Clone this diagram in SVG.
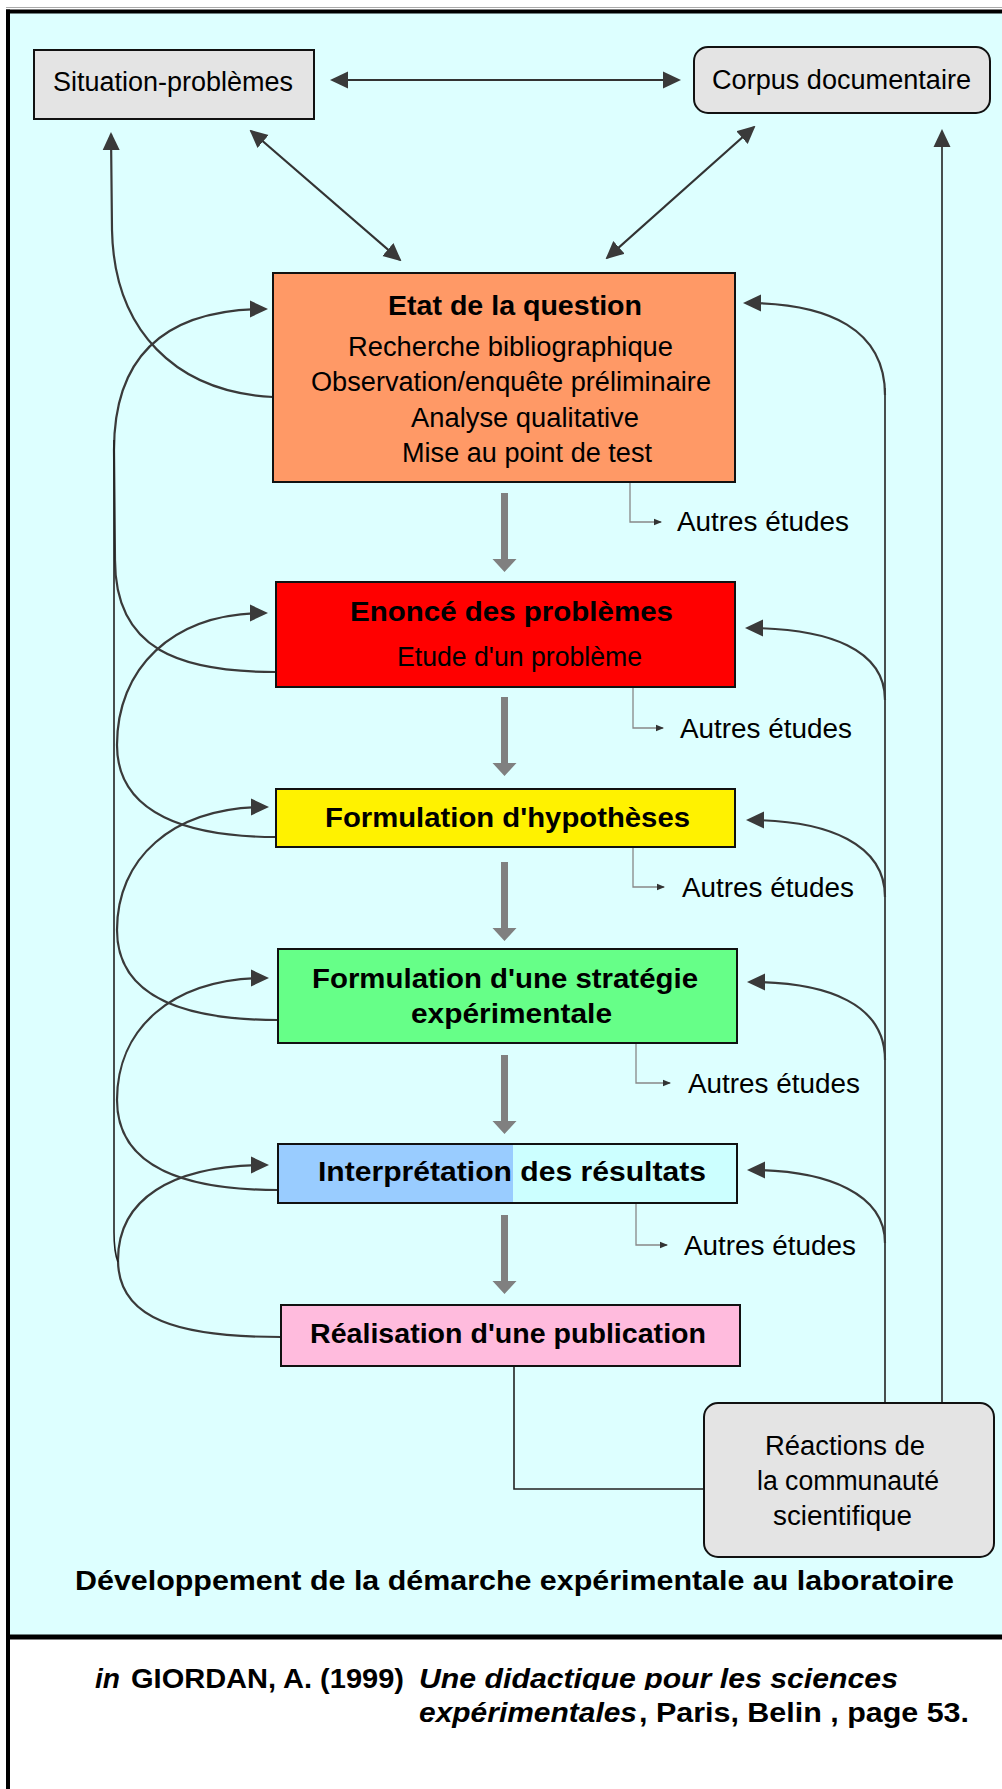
<svg xmlns="http://www.w3.org/2000/svg" width="1002" height="1789" viewBox="0 0 1002 1789">
<style>
text{font-family:"Liberation Sans",Arial,sans-serif;font-size:27px;fill:#000}
.b{font-weight:bold}
.bi{font-weight:bold;font-style:italic}
.box{stroke:#111;stroke-width:2}
.gray{fill:#e4e4e4}
.cv{fill:none;stroke:#3a3a3a;stroke-width:2.2}
.ln{fill:none;stroke:#222;stroke-width:1.6}
.da{fill:none;stroke:#333;stroke-width:2.2}
.au{fill:none;stroke:#888;stroke-width:1.3}
</style>
<defs>
<marker id="ah" viewBox="0 0 18 18" refX="16" refY="9" markerWidth="18" markerHeight="18" markerUnits="userSpaceOnUse" orient="auto-start-reverse">
<path d="M0,0.5 L18,9 L0,17.5 z" fill="#3a3a3a"/>
</marker>
<marker id="sm" viewBox="0 0 8 8" refX="7" refY="4" markerWidth="8" markerHeight="8" markerUnits="userSpaceOnUse" orient="auto">
<path d="M0,0.8 L8,4 L0,7.2 z" fill="#333"/>
</marker>
<path id="garrow" d="M-3.5,0 H3.5 V66 H12 L0,79 L-12,66 H-3.5 z" fill="#808080"/>
<clipPath id="clipdesc"><rect x="400" y="1650" width="520" height="40"/></clipPath>
</defs>

<rect x="0" y="0" width="1002" height="1789" fill="#fff"/>
<rect x="10" y="13" width="992" height="1622" fill="#ddffff"/>
<line x1="6" y1="7.5" x2="1002" y2="7.5" stroke="#aaa" stroke-width="1"/>
<line x1="6" y1="11.5" x2="1002" y2="11.5" stroke="#000" stroke-width="4"/>
<line x1="8" y1="9.5" x2="8" y2="1789" stroke="#000" stroke-width="4"/>
<line x1="6" y1="1637" x2="1002" y2="1637" stroke="#000" stroke-width="5"/>

<g id="connectors">
<!-- top double arrows -->
<path class="da" d="M332,80 L679,80" marker-start="url(#ah)" marker-end="url(#ah)"/>
<path class="da" d="M251,131 L400,260" marker-start="url(#ah)" marker-end="url(#ah)"/>
<path class="da" d="M754,127 L607,258" marker-start="url(#ah)" marker-end="url(#ah)"/>
<!-- Etat to Situation-problemes -->
<path class="cv" d="M273,397 C175,392 114,330 112,230 L111,134" marker-end="url(#ah)"/>
<!-- left feedback loops -->
<path class="cv" d="M276,672 C180,672 115,650 115,560 L114,450 C114,360 160,309 266,309" marker-end="url(#ah)"/>
<path class="cv" d="M276,837 C190,837 117,815 117,745 C117,670 170,613 266,613" marker-end="url(#ah)"/>
<path class="cv" d="M278,1020 C190,1020 117,1000 117,930 C117,860 170,807 267,807" marker-end="url(#ah)"/>
<path class="cv" d="M278,1190 C190,1190 117,1170 117,1100 C117,1030 170,978 267,978" marker-end="url(#ah)"/>
<path class="cv" d="M281,1337 C180,1337 118,1320 118,1260 C118,1200 170,1165 267,1165" marker-end="url(#ah)"/>
<path class="ln" d="M114,440 L114,1232 Q114,1252 118,1262"/>
<!-- right feedback -->
<path class="ln" d="M885,388 L885,1403"/>
<path class="cv" d="M885,395 C885,330 830,303 745,303" marker-end="url(#ah)"/>
<path class="cv" d="M885,700 C885,650 830,628 747,628" marker-end="url(#ah)"/>
<path class="cv" d="M885,897 C885,845 830,820 748,820" marker-end="url(#ah)"/>
<path class="cv" d="M885,1060 C885,1005 830,982 749,982" marker-end="url(#ah)"/>
<path class="cv" d="M885,1243 C885,1195 830,1170 749,1170" marker-end="url(#ah)"/>
<path class="ln" d="M942,1403 L942,131" marker-end="url(#ah)"/>
<!-- publication to reactions -->
<path class="ln" d="M514,1366 L514,1489 L704,1489"/>
<!-- main gray arrows -->
<use href="#garrow" x="504.5" y="493"/>
<use href="#garrow" x="504.5" y="697"/>
<use href="#garrow" x="504.5" y="862"/>
<use href="#garrow" x="504.5" y="1055"/>
<use href="#garrow" x="504.5" y="1215"/>
<!-- autres etudes connectors -->
<path class="au" d="M630,482 V522 H661" marker-end="url(#sm)"/>
<path class="au" d="M633,687 V728 H663" marker-end="url(#sm)"/>
<path class="au" d="M633,847 V887 H664" marker-end="url(#sm)"/>
<path class="au" d="M636,1043 V1083 H670" marker-end="url(#sm)"/>
<path class="au" d="M636,1203 V1245 H667" marker-end="url(#sm)"/>
</g>

<g id="situation">
<rect class="box gray" x="34" y="50" width="280" height="69"/>
<text x="53" y="91" textLength="240" lengthAdjust="spacingAndGlyphs">Situation-problèmes</text>
</g>
<g id="corpus">
<rect class="box gray" x="694" y="47" width="296" height="66" rx="14"/>
<text x="712" y="89" textLength="259" lengthAdjust="spacingAndGlyphs">Corpus documentaire</text>
</g>
<g id="etat">
<rect class="box" x="273" y="273" width="462" height="209" fill="#ff9966"/>
<text class="b" x="388" y="315" textLength="254" lengthAdjust="spacingAndGlyphs">Etat de la question</text>
<text x="348" y="356" textLength="325" lengthAdjust="spacingAndGlyphs">Recherche bibliographique</text>
<text x="311" y="391" textLength="400" lengthAdjust="spacingAndGlyphs">Observation/enquête préliminaire</text>
<text x="411" y="427" textLength="228" lengthAdjust="spacingAndGlyphs">Analyse qualitative</text>
<text x="402" y="462" textLength="250" lengthAdjust="spacingAndGlyphs">Mise au point de test</text>
</g>
<g id="enonce">
<rect class="box" x="276" y="582" width="459" height="105" fill="#ff0000"/>
<text class="b" x="350" y="621" textLength="323" lengthAdjust="spacingAndGlyphs">Enoncé des problèmes</text>
<text x="397" y="666" textLength="245" lengthAdjust="spacingAndGlyphs">Etude d'un problème</text>
</g>
<g id="hypotheses">
<rect class="box" x="276" y="789" width="459" height="58" fill="#fff200"/>
<text class="b" x="325" y="827" textLength="365" lengthAdjust="spacingAndGlyphs">Formulation d'hypothèses</text>
</g>
<g id="strategie">
<rect class="box" x="278" y="949" width="459" height="94" fill="#66ff88"/>
<text class="b" x="312" y="988" textLength="386" lengthAdjust="spacingAndGlyphs">Formulation d'une stratégie</text>
<text class="b" x="411" y="1023" textLength="201" lengthAdjust="spacingAndGlyphs">expérimentale</text>
</g>
<g id="interpretation">
<rect x="278" y="1144" width="235" height="59" fill="#99ccff"/>
<rect x="513" y="1144" width="224" height="59" fill="#ccffff"/>
<rect class="box" x="278" y="1144" width="459" height="59" fill="none"/>
<text class="b" x="318" y="1181" textLength="388" lengthAdjust="spacingAndGlyphs">Interprétation des résultats</text>
</g>
<g id="publication">
<rect class="box" x="281" y="1305" width="459" height="61" fill="#ffbbdd"/>
<text class="b" x="310" y="1343" textLength="396" lengthAdjust="spacingAndGlyphs">Réalisation d'une publication</text>
</g>
<g id="reactions">
<rect class="box gray" x="704" y="1403" width="290" height="154" rx="14"/>
<text x="765" y="1455" textLength="160" lengthAdjust="spacingAndGlyphs">Réactions de</text>
<text x="757" y="1490" textLength="182" lengthAdjust="spacingAndGlyphs">la communauté</text>
<text x="773" y="1525" textLength="139" lengthAdjust="spacingAndGlyphs">scientifique</text>
</g>
<g id="autres">
<text x="677" y="531" textLength="172" lengthAdjust="spacingAndGlyphs">Autres études</text>
<text x="680" y="738" textLength="172" lengthAdjust="spacingAndGlyphs">Autres études</text>
<text x="682" y="897" textLength="172" lengthAdjust="spacingAndGlyphs">Autres études</text>
<text x="688" y="1093" textLength="172" lengthAdjust="spacingAndGlyphs">Autres études</text>
<text x="684" y="1255" textLength="172" lengthAdjust="spacingAndGlyphs">Autres études</text>
</g>
<g id="title">
<text class="b" x="75" y="1590" textLength="879" lengthAdjust="spacingAndGlyphs">Développement de la démarche expérimentale au laboratoire</text>
</g>
<g id="citation">
<text class="bi" x="95" y="1688" textLength="25" lengthAdjust="spacingAndGlyphs">in</text>
<text class="b" x="131" y="1688" textLength="273" lengthAdjust="spacingAndGlyphs">GIORDAN, A. (1999)</text>
<text class="bi" x="419" y="1688" textLength="479" lengthAdjust="spacingAndGlyphs" clip-path="url(#clipdesc)">Une didactique pour les sciences</text>
<text class="bi" x="419" y="1722" textLength="218" lengthAdjust="spacingAndGlyphs">expérimentales</text>
<text class="b" x="639" y="1722" textLength="330" lengthAdjust="spacingAndGlyphs">, Paris, Belin ,  page 53.</text>
</g>
</svg>
